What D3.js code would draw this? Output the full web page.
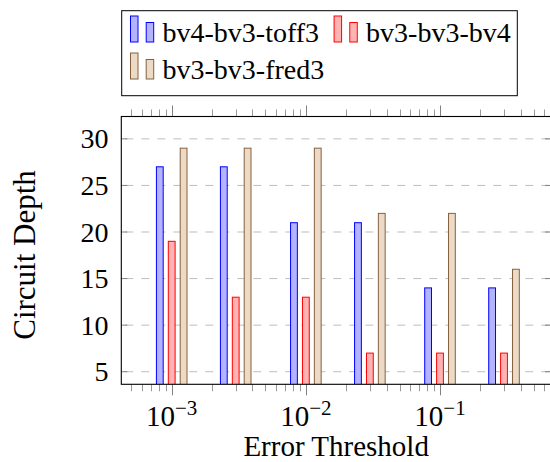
<!DOCTYPE html>
<html>
<head>
<meta charset="utf-8">
<script src="https://cdn.jsdelivr.net/npm/d3@7"></script>
<style>
  html, body { margin: 0; padding: 0; background: #fff; }
  svg { display: block; font-family: "Liberation Serif", "Times New Roman", serif; }
</style>
</head>
<body>
<svg id="chart" width="550" height="462"></svg>
<script>
// Error thresholds (x positions, log scale) and circuit depth per method
const thresholds = [0.001, 0.003, 0.01, 0.03, 0.1, 0.3];
const seriesNames = ["bv4-bv3-toff3", "bv3-bv3-bv4", "bv3-bv3-fred3"];
const depthToff3 = [27, 27, 21, 21, 14, 14];
const depthBv4   = [19, 13, 13, 7, 7, 7];
const depthFred3 = [29, 29, 29, 22, 22, 16];
const yTickValues = [5, 10, 15, 20, 25, 30];
const xMajorExponents = [-3, -2, -1];

const series = [
  { name: seriesNames[0], values: depthToff3, fill: "#b3b3ff", stroke: "#0000ff" },
  { name: seriesNames[1], values: depthBv4,   fill: "#ffb3b3", stroke: "#ff0000" },
  { name: seriesNames[2], values: depthFred3, fill: "#ecd9c6", stroke: "#85623f" }
];

const svg = d3.select("#chart");
const plot = { left: 121.3, right: 551, top: 116.5, bottom: 384.3 };

const x = d3.scaleLog().domain([4.21e-4, 0.672]).range([plot.left, plot.right]);
const y = d3.scaleLinear().domain([3.65, 32.4]).range([plot.bottom, plot.top]);

svg.append("clipPath").attr("id", "plot-clip")
  .append("rect")
  .attr("x", plot.left).attr("y", plot.top)
  .attr("width", plot.right - plot.left).attr("height", plot.bottom - plot.top);

// Horizontal dashed grid
svg.append("g").selectAll("line").data(yTickValues).join("line")
  .attr("x1", plot.left).attr("x2", plot.right)
  .attr("y1", d => y(d)).attr("y2", d => y(d))
  .attr("stroke", "#bdbdbd").attr("stroke-width", 1)
  .attr("stroke-dasharray", "8,8").attr("stroke-dashoffset", -4);

// Bars: three per threshold, shifted by a fixed pixel offset
const barW = 6.8, barGap = 11.9;
const barsG = svg.append("g").attr("clip-path", "url(#plot-clip)");
series.forEach((s, i) => {
  barsG.append("g").selectAll("rect").data(thresholds.map((t, k) => ({ t, v: s.values[k] })))
    .join("rect")
    .attr("x", d => x(d.t) + (i - 1) * barGap - barW / 2)
    .attr("y", d => y(d.v))
    .attr("width", barW)
    .attr("height", d => plot.bottom - y(d.v) + 2)
    .attr("fill", s.fill)
    .attr("stroke", s.stroke)
    .attr("stroke-width", 1);
});

// Log-axis ticks (major at decades, minor at 2..9 of each decade)
const [xmin, xmax] = x.domain();
const majorTicks = [], minorTicks = [];
for (let e = -4; e <= 0; e++) {
  for (let m = 1; m <= 9; m++) {
    const v = m * Math.pow(10, e);
    if (v < xmin || v > xmax) continue;
    (m === 1 ? majorTicks : minorTicks).push(v);
  }
}
const tickG = svg.append("g");
function xTicks(list, len, color) {
  tickG.append("g").selectAll("line").data(list).join("line")
    .attr("x1", d => Math.round(x(d)) + 0.5).attr("x2", d => Math.round(x(d)) + 0.5)
    .attr("y1", plot.bottom).attr("y2", plot.bottom + len)
    .attr("stroke", color).attr("stroke-width", 1);
  tickG.append("g").selectAll("line").data(list).join("line")
    .attr("x1", d => Math.round(x(d)) + 0.5).attr("x2", d => Math.round(x(d)) + 0.5)
    .attr("y1", plot.top).attr("y2", plot.top - len)
    .attr("stroke", color).attr("stroke-width", 1);
}
xTicks(minorTicks, 7, "#9a9a9a");
xTicks(majorTicks, 11, "#808080");

// Y ticks inside, on both sides
tickG.append("g").selectAll("line").data(yTickValues).join("line")
  .attr("x1", plot.left).attr("x2", plot.left + 6)
  .attr("y1", d => y(d)).attr("y2", d => y(d))
  .attr("stroke", "#808080").attr("stroke-width", 1);
tickG.append("g").selectAll("line").data(yTickValues).join("line")
  .attr("x1", plot.right - 6).attr("x2", plot.right)
  .attr("y1", d => y(d)).attr("y2", d => y(d))
  .attr("stroke", "#808080").attr("stroke-width", 1);

// Frame
svg.append("rect")
  .attr("x", plot.left).attr("y", plot.top)
  .attr("width", plot.right - plot.left).attr("height", plot.bottom - plot.top)
  .attr("fill", "none").attr("stroke", "#000").attr("stroke-width", 1.1);

// Y tick labels
svg.append("g").selectAll("text").data(yTickValues).join("text")
  .attr("x", 108.5).attr("y", d => y(d) + 9.5)
  .attr("text-anchor", "end")
  .attr("font-size", 28)
  .text(d => d);

// X tick labels 10^e
const xl = svg.append("g").selectAll("text").data(xMajorExponents).join("text")
  .attr("x", d => x(Math.pow(10, d)))
  .attr("y", 425.5)
  .attr("text-anchor", "middle")
  .attr("font-size", 29);
xl.append("tspan").text("10");
xl.append("tspan").attr("dy", -11).attr("font-size", 21).text(d => "\u2212" + Math.abs(d));

// Axis titles
svg.append("text")
  .attr("x", (plot.left + plot.right) / 2).attr("y", 455.5)
  .attr("text-anchor", "middle").attr("font-size", 29)
  .text("Error Threshold");
svg.append("text")
  .attr("transform", "translate(35,255) rotate(-90)")
  .attr("text-anchor", "middle").attr("font-size", 31)
  .text("Circuit Depth");

// Legend
const legend = { left: 121.7, top: 10.7, right: 517.3, bottom: 95.7 };
const lg = svg.append("g");
lg.append("rect")
  .attr("x", legend.left).attr("y", legend.top)
  .attr("width", legend.right - legend.left).attr("height", legend.bottom - legend.top)
  .attr("fill", "#fff").attr("stroke", "#000").attr("stroke-width", 1);

function legendEntry(s, x0, baseline) {
  const g = lg.append("g");
  g.append("rect").attr("x", x0).attr("y", baseline - 26).attr("width", 7.5).attr("height", 26)
    .attr("fill", s.fill).attr("stroke", s.stroke).attr("stroke-width", 1);
  g.append("rect").attr("x", x0 + 15.7).attr("y", baseline - 19.5).attr("width", 7.5).attr("height", 19.5)
    .attr("fill", s.fill).attr("stroke", s.stroke).attr("stroke-width", 1);
  const t = g.append("text").attr("x", x0 + 32).attr("y", baseline)
    .attr("font-size", 28).text(s.name);
  return x0 + 32 + t.node().getComputedTextLength();
}
const end1 = legendEntry(series[0], 130.5, 42);
legendEntry(series[1], end1 + 15, 42);
legendEntry(series[2], 130.5, 79);
</script>
</body>
</html>
